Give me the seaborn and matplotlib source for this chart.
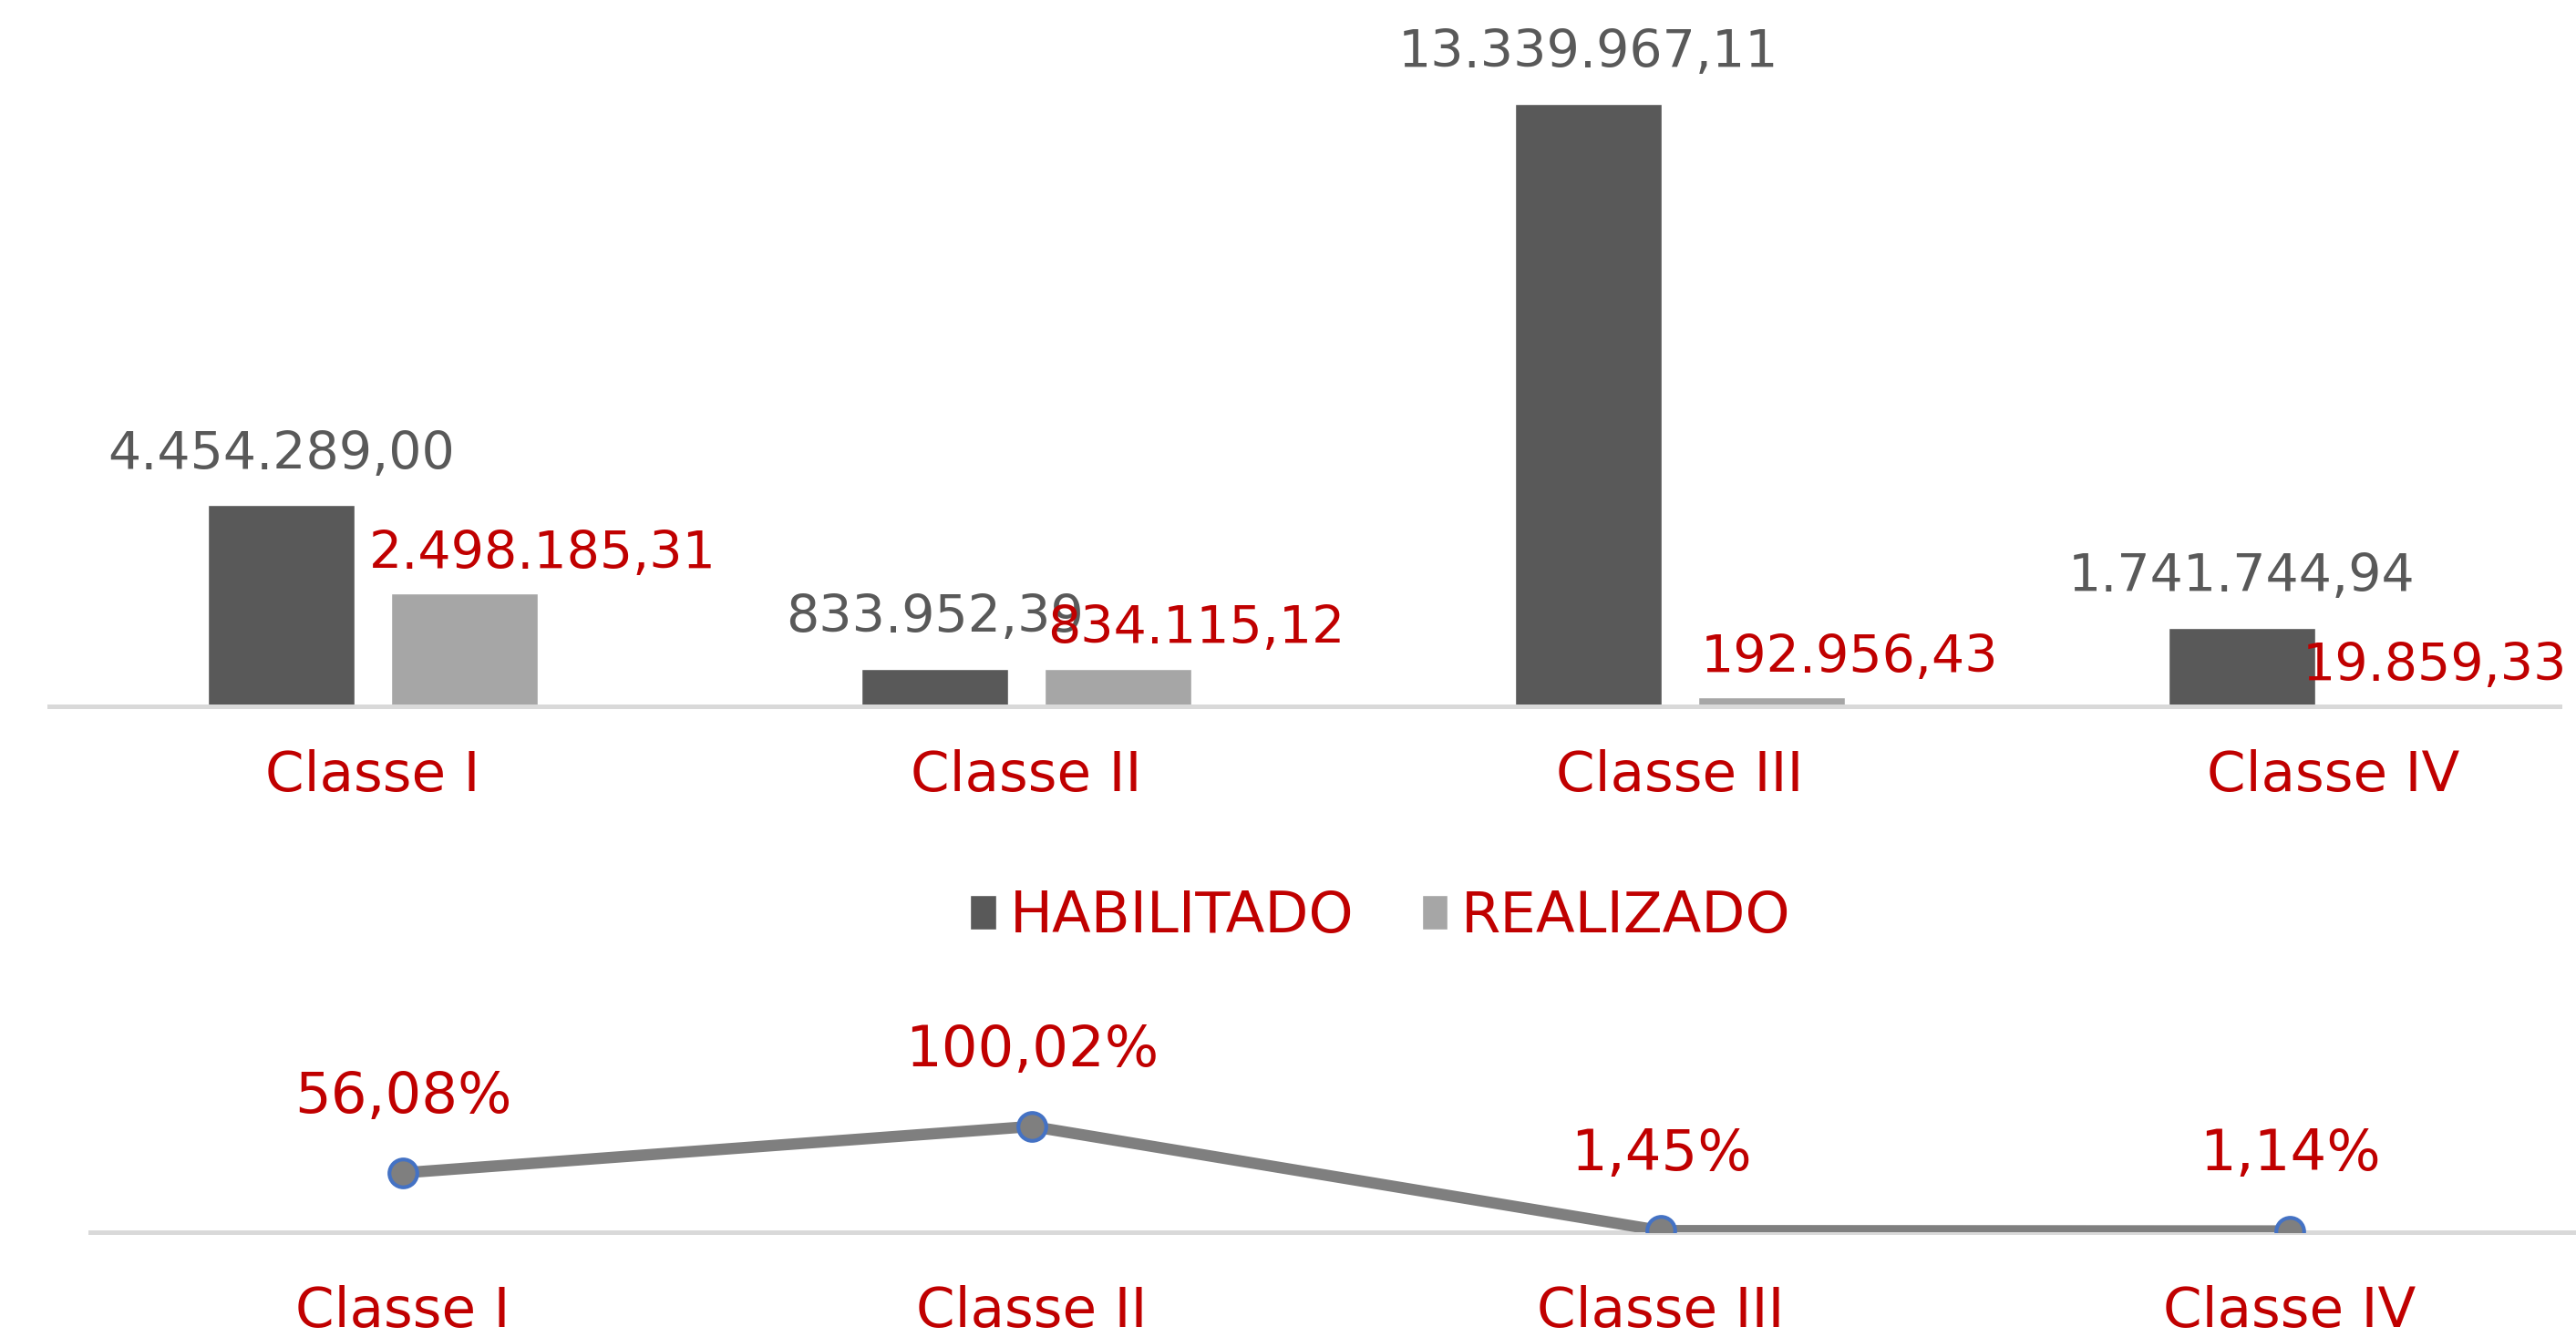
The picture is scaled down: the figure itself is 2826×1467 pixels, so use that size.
import matplotlib
matplotlib.use("Agg")
import matplotlib.pyplot as plt
import seaborn as sns
import pandas as pd
from matplotlib.patches import Patch

categorias = ["Classe I", "Classe II", "Classe III", "Classe IV"]
habilitado = [4454289.00, 833952.39, 13339967.11, 1741744.94]
realizado = [2498185.31, 834115.12, 192956.43, 19859.33]
percentual = [56.08, 100.02, 1.45, 1.14]
series = ["HABILITADO", "REALIZADO"]

VERMELHO = "#c00000"
ESCURO = "#595959"
CLARO = "#a6a6a6"
EIXO = "#d9d9d9"


def fmt_br(v):
    return f"{v:,.2f}".replace(",", "X").replace(".", ",").replace("X", ".")


def fmt_pct(p):
    return f"{p:.2f}".replace(".", ",") + "%"


df = pd.DataFrame({
    "Classe": categorias * 2,
    "valor": habilitado + realizado,
    "serie": [series[0]] * 4 + [series[1]] * 4,
})

sns.set_style("white")
plt.rcParams["font.family"] = ["DejaVu Sans"]

fig = plt.figure(figsize=(28.26, 14.67), dpi=100)
fig.patch.set_facecolor("white")

# barras
ax1 = fig.add_axes([54 / 2826, 1 - 775 / 1467, 2754 / 2826, 775 / 1467])
sns.barplot(data=df, x="Classe", y="valor", hue="serie", palette=[ESCURO, CLARO],
            width=0.56, gap=0.2, ax=ax1, legend=False, saturation=1)
ax1.set_xlim(-0.495, 3.346)
ax1.set_ylim(0, 15.64e6)
ax1.set_xlabel("")
ax1.set_ylabel("")
ax1.set_yticks([])
for s in ["top", "left", "right"]:
    ax1.spines[s].set_visible(False)
ax1.spines["bottom"].set_color(EIXO)
ax1.spines["bottom"].set_linewidth(3.6)
ax1.tick_params(axis="x", length=0, pad=34, labelsize=44, labelcolor=VERMELHO)

offs_red = [62, 62, 62, 8]
for i, bar in enumerate(ax1.containers[0]):
    cx = bar.get_x() + bar.get_width() / 2
    ax1.annotate(fmt_br(habilitado[i]), (cx, bar.get_height()), xytext=(0, 20),
                 textcoords="offset points", ha="center", va="bottom",
                 fontsize=41, color=ESCURO, annotation_clip=False)
for i, bar in enumerate(ax1.containers[1]):
    cx = bar.get_x() + bar.get_width() / 2
    ax1.annotate(fmt_br(realizado[i]), (cx, bar.get_height()), xytext=(offs_red[i], 11),
                 textcoords="offset points", ha="center", va="bottom",
                 fontsize=41, color=VERMELHO, annotation_clip=False)

handles = [Patch(facecolor=ESCURO), Patch(facecolor=CLARO)]
leg = fig.legend(handles, series, loc="center", bbox_to_anchor=(0.536, 1 - 1006 / 1467),
                 ncol=2, frameon=False, fontsize=45, handlelength=0.46, handleheight=0.56,
                 handletextpad=0.24, columnspacing=1.18)
for t in leg.get_texts():
    t.set_color(VERMELHO)

# linha de percentual
ax2 = fig.add_axes([99 / 2826, 1 - 1352 / 1467, 2727 / 2826, 252 / 1467])
ax2.set_facecolor("none")
sns.lineplot(x=categorias, y=percentual, ax=ax2, sort=False, color="#7f7f7f",
             linewidth=9, marker="o", markersize=22, markerfacecolor="#7f7f7f",
             markeredgecolor="#4472c4", markeredgewidth=3)
ax2.set_xlim(-0.497, 3.455)
ax2.set_ylim(0, 217.2)
ax2.set_yticks([])
ax2.set_xlabel("")
ax2.set_ylabel("")
for s in ["top", "left", "right"]:
    ax2.spines[s].set_visible(False)
ax2.spines["bottom"].set_color(EIXO)
ax2.spines["bottom"].set_linewidth(3.6)
ax2.spines["bottom"].set_zorder(0)
ax2.tick_params(axis="x", length=0, pad=42, labelsize=44, labelcolor=VERMELHO)
for i, p in enumerate(percentual):
    ax2.annotate(fmt_pct(p), (i, p), xytext=(0, 60), textcoords="offset points",
                 ha="center", va="center", fontsize=45, color=VERMELHO,
                 annotation_clip=False)

fig.savefig("out.png", dpi=100)
